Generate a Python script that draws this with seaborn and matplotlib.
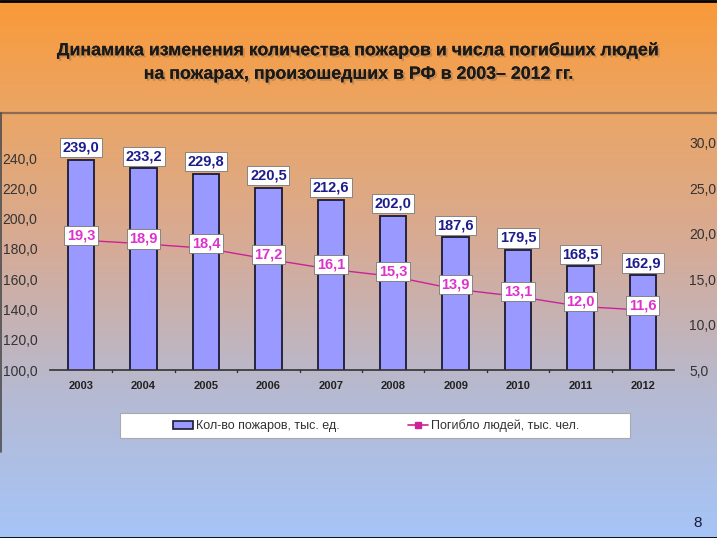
import numpy as np
import pandas as pd
import matplotlib
matplotlib.use("Agg")
import matplotlib.pyplot as plt
import seaborn as sns
from matplotlib import patheffects as pe
from matplotlib.colors import LinearSegmentedColormap
from matplotlib.lines import Line2D
from matplotlib.patches import Patch, Rectangle

years = ["2003", "2004", "2005", "2006", "2007", "2008", "2009", "2010", "2011", "2012"]
fires = [239.0, 233.2, 229.8, 220.5, 212.6, 202.0, 187.6, 179.5, 168.5, 162.9]
deaths = [19.3, 18.9, 18.4, 17.2, 16.1, 15.3, 13.9, 13.1, 12.0, 11.6]
left_ticks = [100, 120, 140, 160, 180, 200, 220, 240]
right_ticks = [5, 10, 15, 20, 25, 30]
title = "Динамика изменения количества пожаров и числа погибших людей\nна пожарах, произошедших в РФ в 2003– 2012 гг."
legend_labels = ["Кол-во пожаров, тыс. ед.", "Погибло людей, тыс. чел."]

sns.set_theme(style="white")
plt.rcParams["font.family"] = ["Liberation Sans", "DejaVu Sans"]

W, H = 717, 538
fig = plt.figure(figsize=(W / 100, H / 100), dpi=100)

# background gradient
bg = fig.add_axes([0, 0, 1, 1], zorder=-10)
cmap = LinearSegmentedColormap.from_list(
    "bg",
    [(0.0, (0.98, 0.60, 0.22)), (0.21, (0.92, 0.65, 0.40)), (0.46, (0.84, 0.67, 0.59)),
     (0.74, (0.71, 0.73, 0.83)), (1.0, (0.65, 0.77, 0.97))])
grad = np.linspace(0, 1, 256).reshape(-1, 1)
bg.imshow(grad, aspect="auto", cmap=cmap, extent=[0, 1, 0, 1], origin="upper")
bg.set_xlim(0, 1)
bg.set_ylim(0, 1)
bg.axis("off")
# frame lines
bg.plot([0, 1], [1 - 113 / H, 1 - 113 / H], color=(0.55, 0.42, 0.32), lw=1.6)
bg.plot([1.5 / W, 1.5 / W], [1 - 113 / H, 1 - 452 / H], color=(0.3, 0.3, 0.3), lw=1.2)
bg.plot([0, 1], [1 - 0.5 / H, 1 - 0.5 / H], color="black", lw=2)
bg.plot([0, 1], [0.5 / H, 0.5 / H], color="black", lw=2)
# legend box
bg.add_patch(Rectangle((120 / W, 1 - 438 / H), 510 / W, 25 / H, transform=bg.transAxes,
                       facecolor="white", edgecolor="#aaaaaa", lw=0.8, zorder=3))

fig.text(0.5, 1 - 62 / H, title, ha="center", va="center", fontsize=12.8,
         fontweight="bold", color="#1a1a1a", linespacing=1.5,
         path_effects=[pe.withSimplePatchShadow(offset=(1.5, -1.5), alpha=0.25, shadow_rgbFace="#444444"),
                       pe.Normal()])

fig.text(698 / W, 1 - 523 / H, "8", ha="center", va="center", fontsize=11, color="#1a1a3a")

ax = fig.add_axes([50 / W, 1 - 370 / H, 624 / W, 227 / H])
ax.patch.set_alpha(0)
df = pd.DataFrame({"year": years, "fires": fires, "deaths": deaths})
sns.barplot(data=df, x="year", y="fires", ax=ax, color="#9999ff", width=0.42,
            edgecolor="#1a1a33", linewidth=1.3, saturation=1)
ax.set_ylim(100, 250)
ax.set_xlim(-0.5, len(years) - 0.5)
ax.set_yticks(left_ticks)
ax.set_yticklabels([f"{v:.1f}".replace(".", ",") for v in left_ticks], fontsize=10, color="#333333")
ax.set_xlabel("")
ax.set_ylabel("")
ax.tick_params(axis="x", length=0, pad=8)
for lbl in ax.get_xticklabels():
    lbl.set_fontsize(8)
    lbl.set_fontweight("bold")
    lbl.set_color("#222222")
ax.tick_params(axis="y", length=0, pad=9)
for s in ["top", "right", "left"]:
    ax.spines[s].set_visible(False)
ax.spines["bottom"].set_color("#333333")
ax.spines["bottom"].set_linewidth(1.2)
for b in np.arange(0.5, len(years) - 0.5, 1.0):
    ax.plot([b, b], [100, 98.5], color="#333333", lw=1, clip_on=False)

for i, v in enumerate(fires):
    ax.annotate(f"{v:.1f}".replace(".", ","), (i, v), xytext=(0, 8.5), textcoords="offset points",
                ha="center", va="center", fontsize=10.5, fontweight="bold", color="#1c1c8c",
                bbox=dict(boxstyle="square,pad=0.18", fc="white", ec="#777777", lw=0.6),
                zorder=5)

ax2 = ax.twinx()
ax2.patch.set_alpha(0)
sns.lineplot(x=np.arange(len(years)), y=deaths, ax=ax2, color="#cc2299", lw=1.0,
             marker="s", markersize=4, markeredgewidth=0)
ax2.set_ylim(5, 30)
ax2.set_yticks(right_ticks)
ax2.set_yticklabels([f"{v:.1f}".replace(".", ",") for v in right_ticks], fontsize=10, color="#333333")
ax2.tick_params(axis="y", length=0, pad=11)
for s in ["top", "right", "left", "bottom"]:
    ax2.spines[s].set_visible(False)
ax2.set_xlim(-0.5, len(years) - 0.5)
for i, v in enumerate(deaths):
    ax2.annotate(f"{v:.1f}".replace(".", ","), (i, v), xytext=(0, 3.5), textcoords="offset points",
                 ha="center", va="center", fontsize=10.5, fontweight="bold", color="#dd33cc",
                 bbox=dict(boxstyle="square,pad=0.18", fc="white", ec="#777777", lw=0.6),
                 zorder=5)

# legend
handles = [Patch(facecolor="#9999ff", edgecolor="#1a1a33", lw=1.2),
           Line2D([0], [0], color="#cc2299", lw=1.2, marker="s", markersize=4)]
leg = fig.legend(handles, legend_labels, loc="center", bbox_to_anchor=(376 / W, 1 - 426 / H),
                 ncol=2, frameon=False, fontsize=9, columnspacing=5.5, handlelength=1.6,
                 handletextpad=0.2, borderpad=0.3, labelcolor="#333333")

fig.savefig("out.png", dpi=100)
